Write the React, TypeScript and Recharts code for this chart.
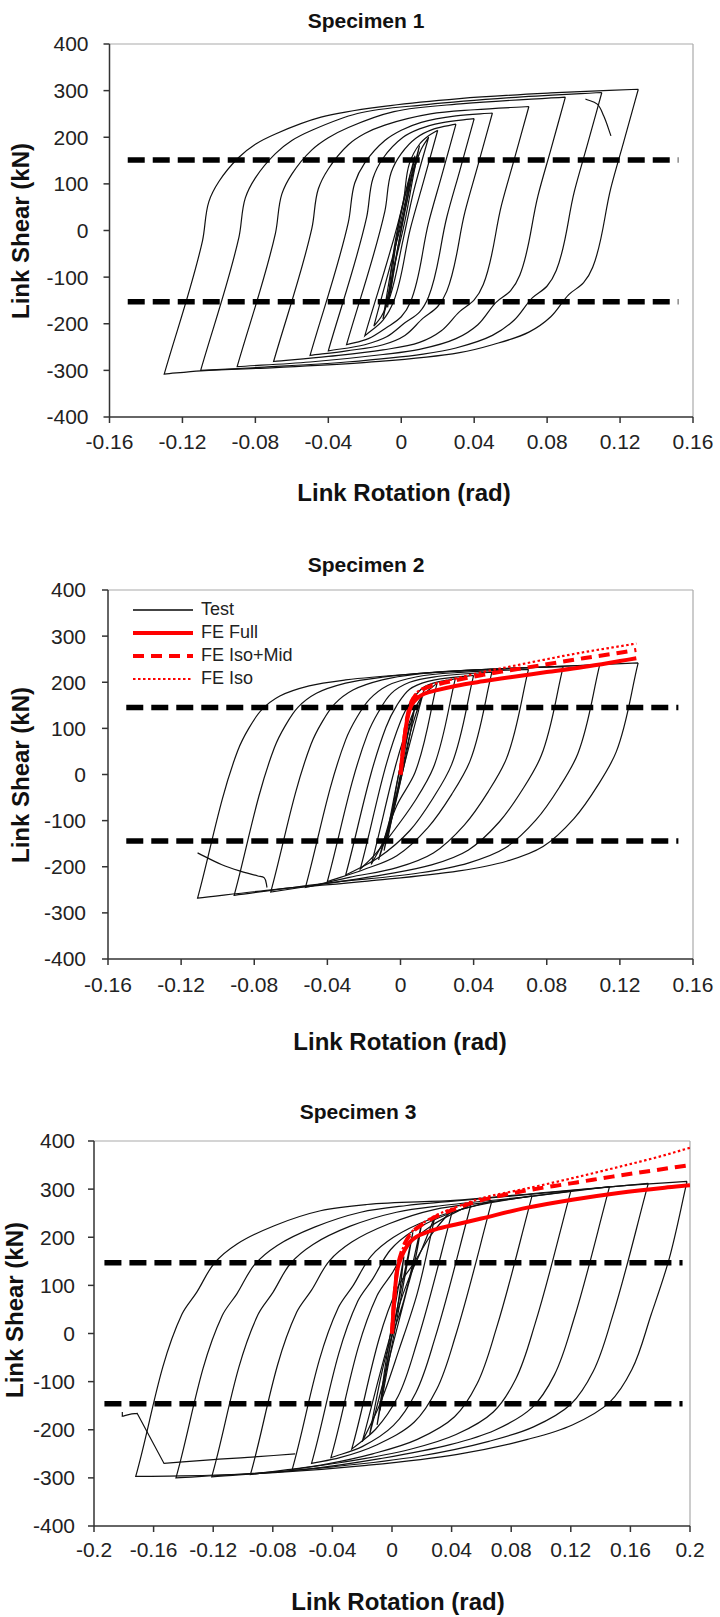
import React from 'react';
import { LineChart, Line, XAxis, YAxis, ReferenceLine, Legend } from 'recharts';

type Pair = [number, number];

const FONT = '"Liberation Sans", Arial, sans-serif';

// axes
const shearTicks = [-400, -300, -200, -100, 0, 100, 200, 300, 400];
const shearDomain: [number, number] = [-400, 400];
const rotTicks16 = [-0.16, -0.12, -0.08, -0.04, 0, 0.04, 0.08, 0.12, 0.16];
const rotDomain16: [number, number] = [-0.16, 0.16];
const rotTicks20 = [-0.2, -0.16, -0.12, -0.08, -0.04, 0, 0.04, 0.08, 0.12, 0.16, 0.2];
const rotDomain20: [number, number] = [-0.2, 0.2];

// ---------- Specimen 1 (test cycles, rotation rad / shear kN) ----------
const s1c130: Pair[] = [[0.13,303],[0.122,190],[0.115,92],[0.105,-79],[0.1,-112],[0.092,-137],[0.082,-185],[0.07,-218],[0.05,-245],[0.032,-262],[-0.019,-283],[-0.069,-294],[-0.11,-301],[-0.13,-308],[-0.109,-22],[-0.1055,62],[-0.1,105],[-0.089,157],[-0.08,185],[-0.069,207],[-0.044,243],[-0.006,268],[0.032,283],[0.082,295],[0.13,303]];
const s1c110: Pair[] = [[0.11,296],[0.102,183],[0.095,85],[0.085,-86],[0.08,-119],[0.072,-144],[0.062,-192],[0.05,-225],[0.03,-252],[0.012,-265],[-0.03,-282],[-0.075,-293],[-0.11,-300],[-0.089,-14],[-0.0855,70],[-0.08,113],[-0.069,165],[-0.06,193],[-0.049,215],[-0.024,251],[0.014,270],[0.06,285],[0.11,296]];
const s1c090: Pair[] = [[0.09,286],[0.082,173],[0.075,75],[0.065,-96],[0.06,-129],[0.052,-154],[0.042,-202],[0.03,-232],[0.01,-255],[-0.01,-266],[-0.05,-282],[-0.09,-292],[-0.069,-6],[-0.0655,78],[-0.06,121],[-0.049,173],[-0.04,199],[-0.029,221],[-0.004,255],[0.034,272],[0.09,286]];
const s1c070: Pair[] = [[0.07,266],[0.062,153],[0.055,55],[0.045,-116],[0.04,-149],[0.032,-174],[0.022,-215],[0.01,-240],[-0.01,-256],[-0.04,-270],[-0.07,-281],[-0.049,5],[-0.0455,89],[-0.04,132],[-0.029,184],[-0.02,208],[-0.009,226],[0.016,250],[0.04,259],[0.07,266]];
const s1c050: Pair[] = [[0.05,252],[0.042,139],[0.035,41],[0.025,-130],[0.02,-163],[0.012,-188],[0.002,-225],[-0.01,-245],[-0.03,-258],[-0.05,-268],[-0.029,18],[-0.0255,102],[-0.02,145],[-0.009,193],[0,215],[0.011,232],[0.03,246],[0.05,252]];
const s1c040: Pair[] = [[0.04,240],[0.032,127],[0.025,29],[0.015,-142],[0.01,-175],[0.002,-198],[-0.008,-228],[-0.02,-245],[-0.04,-258],[-0.019,28],[-0.0155,112],[-0.01,155],[0.001,200],[0.01,218],[0.022,231],[0.04,240]];
const s1c030: Pair[] = [[0.03,228],[0.022,115],[0.015,17],[0.005,-154],[0,-185],[-0.008,-208],[-0.018,-232],[-0.03,-245],[-0.009,41],[-0.0055,125],[0,165],[0.008,198],[0.018,218],[0.03,228]];
const s1c020: Pair[] = [[0.02,215],[0.012,102],[0.005,4],[-0.004,-150],[-0.01,-192],[-0.02,-226],[0.001,60],[0.0045,144],[0.01,185],[0.015,203],[0.02,215]];
const s1c015: Pair[] = [[0.015,200],[0.007,87],[0.001,-20],[-0.006,-140],[-0.011,-185],[-0.015,-205],[0.003,60],[0.007,130],[0.011,175],[0.015,200]];
const s1c010: Pair[] = [[0.01,182],[0.003,75],[-0.003,-30],[-0.008,-140],[-0.01,-190],[-0.004,-80],[0.002,20],[0.007,125],[0.01,182]];
const s1c0075: Pair[] = [[0.0075,160],[0.001,60],[-0.004,-40],[-0.0075,-165],[-0.003,-60],[0.002,40],[0.0075,160]];
const s1c005: Pair[] = [[0.005,120],[-0.001,20],[-0.004,-60],[-0.006,-135],[-0.002,-40],[0.002,50],[0.005,120]];
const s1Tail: Pair[] = [[0.101,282],[0.1075,271],[0.111,246],[0.115,203]];
const s1Yield = [151, -153];
const s1YieldSpan = [-0.15, 0.152];

// ---------- Specimen 2 ----------
const s2c130: Pair[] = [[0.13,242],[0.118,49],[0.108,-23],[0.095,-95],[0.078,-156],[0.058,-188],[0.032,-209],[-0.018,-231],[-0.068,-249],[-0.111,-268],[-0.089,52],[-0.083,100],[-0.076,140],[-0.066,170],[-0.05,192],[-0.03,205],[0.007,218],[0.057,229],[0.13,242]];
const s2c109: Pair[] = [[0.109,238],[0.097,45],[0.087,-27],[0.074,-99],[0.057,-160],[0.037,-192],[0.011,-213],[-0.039,-235],[-0.091,-262],[-0.069,58],[-0.063,106],[-0.056,146],[-0.046,176],[-0.03,198],[-0.01,211],[0.027,224],[0.07,232],[0.109,238]];
const s2c089: Pair[] = [[0.089,234],[0.077,41],[0.067,-31],[0.054,-103],[0.037,-164],[0.017,-196],[-0.009,-217],[-0.04,-236],[-0.071,-255],[-0.049,65],[-0.043,113],[-0.036,153],[-0.026,183],[-0.01,205],[0.01,218],[0.047,228],[0.089,234]];
const s2c070: Pair[] = [[0.07,228],[0.058,35],[0.048,-37],[0.035,-109],[0.018,-170],[-0.002,-202],[-0.028,-223],[-0.052,-245],[-0.03,75],[-0.024,123],[-0.017,163],[-0.007,193],[0.009,212],[0.035,222],[0.07,228]];
const s2c050: Pair[] = [[0.05,222],[0.038,29],[0.028,-43],[0.015,-115],[-0.002,-176],[-0.02,-206],[-0.04,-232],[-0.018,88],[-0.012,136],[-0.005,176],[0.005,200],[0.021,213],[0.05,222]];
const s2c040: Pair[] = [[0.04,215],[0.028,22],[0.018,-50],[0.005,-122],[-0.012,-180],[-0.03,-218],[-0.008,102],[-0.002,150],[0.005,185],[0.015,202],[0.04,215]];
const s2c030: Pair[] = [[0.03,208],[0.018,15],[0.008,-57],[-0.005,-129],[-0.015,-178],[-0.022,-205],[0,115],[0.006,160],[0.013,190],[0.03,208]];
const s2c020: Pair[] = [[0.02,198],[0.008,5],[-0.002,-67],[-0.01,-150],[-0.016,-195],[0.006,125],[0.012,170],[0.02,198]];
const s2c013: Pair[] = [[0.013,185],[0.002,20],[-0.006,-110],[-0.012,-185],[-0.002,-40],[0.006,100],[0.013,185]];
const s2c008: Pair[] = [[0.008,150],[0,20],[-0.005,-80],[-0.009,-165],[-0.002,-50],[0.003,40],[0.008,150]];
const s2c005: Pair[] = [[0.005,110],[-0.001,0],[-0.007,-140],[-0.001,-20],[0.005,110]];
const s2Tail: Pair[] = [[-0.111,-170],[-0.098,-195],[-0.088,-209],[-0.078,-220],[-0.0745,-224],[-0.073,-245]];
const s2FeFull: Pair[] = [[0,0],[0.001,40],[0.0025,90],[0.004,125],[0.006,150],[0.009,165],[0.013,175],[0.02,183],[0.03,192],[0.045,202],[0.06,211],[0.08,222],[0.1,233],[0.12,246],[0.129,252]];
const s2FeIsoMid: Pair[] = [[0,0],[0.001,40],[0.0025,90],[0.004,130],[0.006,158],[0.009,175],[0.013,186],[0.02,195],[0.03,204],[0.045,216],[0.06,226],[0.08,239],[0.1,252],[0.12,264],[0.129,270]];
const s2FeIso: Pair[] = [[0,0],[0.001,40],[0.0025,90],[0.004,130],[0.006,160],[0.009,178],[0.013,189],[0.02,198],[0.03,208],[0.045,222],[0.06,234],[0.08,250],[0.1,265],[0.12,278],[0.129,284]];
const s2Yield = [145, -144];
const s2YieldSpan = [-0.15, 0.152];

// ---------- Specimen 3 ----------
const s3c198: Pair[] = [[0.198,316],[0.186,155],[0.174,40],[0.161,-75],[0.146,-143],[0.121,-190],[0.091,-220],[0.044,-251],[-0.017,-274],[-0.079,-289],[-0.141,-296],[-0.172,-297],[-0.141,40],[-0.131,86],[-0.119,147],[-0.104,186],[-0.079,224],[-0.048,255],[-0.017,268],[0.044,277],[0.106,294],[0.168,310],[0.198,316]];
const s3c172: Pair[] = [[0.172,312],[0.148,36],[0.135,-79],[0.12,-147],[0.095,-194],[0.065,-224],[0.018,-255],[-0.04,-277],[-0.1,-292],[-0.145,-300],[-0.114,37],[-0.104,83],[-0.092,144],[-0.077,183],[-0.052,221],[-0.021,252],[0.01,266],[0.06,280],[0.12,297],[0.172,312]];
const s3c146: Pair[] = [[0.146,305],[0.122,29],[0.109,-86],[0.094,-154],[0.069,-201],[0.039,-231],[-0.008,-260],[-0.06,-283],[-0.121,-298],[-0.09,39],[-0.08,85],[-0.068,146],[-0.053,185],[-0.028,223],[0.003,252],[0.034,266],[0.09,284],[0.146,305]];
const s3c120: Pair[] = [[0.12,296],[0.096,20],[0.083,-95],[0.068,-163],[0.043,-210],[0.013,-240],[-0.034,-268],[-0.07,-283],[-0.095,-293],[-0.064,44],[-0.054,90],[-0.042,151],[-0.027,190],[-0.002,228],[0.029,258],[0.06,271],[0.12,296]];
const s3c094: Pair[] = [[0.094,286],[0.07,10],[0.057,-105],[0.042,-173],[0.017,-220],[-0.013,-250],[-0.045,-272],[-0.067,-283],[-0.036,54],[-0.026,100],[-0.014,161],[0.001,200],[0.026,238],[0.057,266],[0.094,286]];
const s3c067: Pair[] = [[0.067,275],[0.043,-1],[0.03,-116],[0.015,-184],[-0.01,-231],[-0.035,-258],[-0.054,-270],[-0.023,67],[-0.013,113],[-0.001,174],[0.014,213],[0.039,250],[0.067,275]];
const s3c053: Pair[] = [[0.053,268],[0.029,-8],[0.016,-123],[0.001,-191],[-0.02,-235],[-0.041,-258],[-0.01,79],[0,125],[0.012,186],[0.027,225],[0.053,268]];
const s3c041: Pair[] = [[0.041,260],[0.017,-16],[0.004,-131],[-0.011,-199],[-0.027,-240],[0.004,97],[0.014,143],[0.026,204],[0.041,260]];
const s3c029: Pair[] = [[0.029,245],[0.017,84],[0.005,-31],[-0.008,-146],[-0.02,-225],[0.004,50],[0.011,112],[0.02,175],[0.029,245]];
const s3c020: Pair[] = [[0.02,230],[0.008,70],[-0.004,-45],[-0.012,-160],[-0.015,-210],[0,-30],[0.01,90],[0.016,160],[0.02,230]];
const s3c014: Pair[] = [[0.014,210],[0.004,60],[-0.005,-90],[-0.01,-190],[-0.001,-40],[0.007,90],[0.014,210]];
const s3c008: Pair[] = [[0.008,160],[0,20],[-0.006,-100],[-0.008,-160],[-0.001,-20],[0.004,60],[0.008,160]];
const s3Tail: Pair[] = [[-0.181,-163],[-0.181,-172],[-0.176,-168],[-0.171,-166],[-0.153,-270],[-0.12,-262],[-0.09,-256],[-0.065,-250]];
const s3FeFull: Pair[] = [[0,0],[0.0017,78],[0.004,138],[0.0065,160],[0.0088,175],[0.012,190],[0.0165,201],[0.0288,216],[0.045,228],[0.06,239],[0.09,261],[0.121,278],[0.152,292],[0.183,303],[0.2,308]];
const s3FeIsoMid: Pair[] = [[0,0],[0.0017,80],[0.004,142],[0.0065,170],[0.009,190],[0.0134,210],[0.02,226],[0.029,242],[0.045,262],[0.06,277],[0.09,297],[0.12,312],[0.15,327],[0.2,350]];
const s3FeIso: Pair[] = [[0,0],[0.0017,80],[0.004,142],[0.0065,170],[0.009,190],[0.0134,212],[0.02,228],[0.029,245],[0.045,265],[0.06,281],[0.09,301],[0.12,322],[0.152,346],[0.18,368],[0.2,386]];
const s3Yield = [147, -146];
const s3YieldSpan = [-0.193, 0.195];

const legendOrder = ['Test', 'FE Full', 'FE Iso+Mid', 'FE Iso'];
const feLook: Record<string, { stroke: string; width: number; dash?: string }> = {
  Test: { stroke: '#444', width: 2 },
  'FE Full': { stroke: '#ff0000', width: 4 },
  'FE Iso+Mid': { stroke: '#ff0000', width: 4, dash: '11 7' },
  'FE Iso': { stroke: '#ff0000', width: 2.2, dash: '2.5 2.5' },
};

const pts = (arr: Pair[]) => arr.map(([x, y]) => ({ x, y }));

// smooth path through the points; keeps sharp corners where the path turns hard (loop tips)
function hysteresisCurve(context: any) {
  let xs: number[] = [];
  let ys: number[] = [];
  const unit = (dx: number, dy: number) => {
    const l = Math.hypot(dx, dy);
    return l ? { x: dx / l, y: dy / l } : { x: 0, y: 0 };
  };
  return {
    areaStart() {},
    areaEnd() {},
    lineStart() {
      xs = [];
      ys = [];
    },
    point(x: number, y: number) {
      xs.push(+x);
      ys.push(+y);
    },
    lineEnd() {
      const n = xs.length;
      if (!n) return;
      context.moveTo(xs[0], ys[0]);
      const tin: { x: number; y: number }[] = [];
      const tout: { x: number; y: number }[] = [];
      for (let i = 0; i < n; i++) {
        const a = i > 0 ? unit(xs[i] - xs[i - 1], ys[i] - ys[i - 1]) : null;
        const b = i < n - 1 ? unit(xs[i + 1] - xs[i], ys[i + 1] - ys[i]) : null;
        if (!a && b) {
          tin[i] = tout[i] = b;
        } else if (a && !b) {
          tin[i] = tout[i] = a;
        } else if (a && b) {
          if (a.x * b.x + a.y * b.y < 0.5) {
            tin[i] = a;
            tout[i] = b;
          } else {
            tin[i] = tout[i] = unit(a.x + b.x, a.y + b.y);
          }
        } else {
          tin[i] = tout[i] = { x: 0, y: 0 };
        }
      }
      for (let i = 0; i < n - 1; i++) {
        const k = Math.hypot(xs[i + 1] - xs[i], ys[i + 1] - ys[i]) / 3;
        context.bezierCurveTo(
          xs[i] + tout[i].x * k,
          ys[i] + tout[i].y * k,
          xs[i + 1] - tin[i + 1].x * k,
          ys[i + 1] - tin[i + 1].y * k,
          xs[i + 1],
          ys[i + 1],
        );
      }
    },
  };
}

function LegendRows(props: any) {
  const seen = new Set<string>();
  const items = (props.payload || [])
    .filter((p: any) => {
      if (!feLook[p.value] || seen.has(p.value)) return false;
      seen.add(p.value);
      return true;
    })
    .sort((a: any, b: any) => legendOrder.indexOf(a.value) - legendOrder.indexOf(b.value));
  return (
    <div style={{ fontFamily: FONT, fontSize: 18, color: '#222' }}>
      {items.map((p: any) => {
        const look = feLook[p.value];
        return (
          <div key={p.value} style={{ display: 'flex', alignItems: 'center', height: 23 }}>
            <svg width={60} height={10}>
              <line x1={0} y1={5} x2={60} y2={5} stroke={look.stroke} strokeWidth={look.width} strokeDasharray={look.dash} />
            </svg>
            <span style={{ marginLeft: 8 }}>{p.value}</span>
          </div>
        );
      })}
    </div>
  );
}

interface PanelProps {
  top: number;
  height: number;
  margin: { top: number; right: number; bottom: number; left: number };
  xDomain: [number, number];
  xTicks: number[];
  xTickGap: number;
  yTickGap: number;
  cycles: Pair[][];
  tail: Pair[];
  yieldShear: number[];
  yieldSpan: number[];
  fe?: { name: string; data: Pair[] }[];
  legend?: boolean;
}

function Panel(p: PanelProps) {
  const tick = { fill: '#222', fontSize: 21, fontFamily: FONT };
  return (
    <div style={{ position: 'absolute', left: 0, top: p.top }}>
      <LineChart width={720} height={p.height} margin={p.margin}>
        <XAxis
          type="number"
          dataKey="x"
          domain={p.xDomain}
          ticks={p.xTicks}
          interval={0}
          allowDataOverflow
          height={40}
          tickSize={6}
          tickMargin={p.xTickGap}
          tick={tick}
          axisLine={{ stroke: '#333', strokeWidth: 1.5 }}
          tickLine={{ stroke: '#333', strokeWidth: 1.5 }}
        />
        <YAxis
          type="number"
          domain={shearDomain}
          ticks={shearTicks}
          interval={0}
          allowDataOverflow
          width={60}
          tickSize={6}
          tickMargin={p.yTickGap}
          tick={tick}
          axisLine={{ stroke: '#333', strokeWidth: 1.5 }}
          tickLine={{ stroke: '#333', strokeWidth: 1.5 }}
        />
        <ReferenceLine y={shearDomain[1]} stroke="#aaa" strokeWidth={1.2} />
        <ReferenceLine x={p.xDomain[1]} stroke="#aaa" strokeWidth={1.2} />
        {p.cycles.map((c, i) => (
          <Line
            key={'c' + i}
            type={hysteresisCurve as any}
            data={pts(c)}
            dataKey="y"
            name="Test"
            stroke="#111"
            strokeWidth={1.2}
            dot={false}
            activeDot={false}
            legendType={i === 0 ? 'line' : 'none'}
            isAnimationActive={false}
          />
        ))}
        <Line type={hysteresisCurve as any} data={pts(p.tail)} dataKey="y" stroke="#111" strokeWidth={1.2} dot={false} legendType="none" isAnimationActive={false} />
        {p.yieldShear.map((v, i) => (
          <Line
            key={'y' + i}
            data={[{ x: p.yieldSpan[0], y: v }, { x: p.yieldSpan[1], y: v }]}
            dataKey="y"
            stroke="#000"
            strokeWidth={5.5}
            strokeDasharray="17 8"
            dot={false}
            legendType="none"
            isAnimationActive={false}
          />
        ))}
        {(p.fe || []).map((f) => (
          <Line
            key={f.name}
            type={hysteresisCurve as any}
            data={pts(f.data)}
            dataKey="y"
            name={f.name}
            stroke={feLook[f.name].stroke}
            strokeWidth={feLook[f.name].width}
            strokeDasharray={feLook[f.name].dash}
            dot={false}
            isAnimationActive={false}
          />
        ))}
        {p.legend && (
          <Legend
            layout="vertical"
            align="center"
            verticalAlign="middle"
            wrapperStyle={{ left: 133, top: 78, width: 220, height: 94 }}
            content={<LegendRows />}
          />
        )}
      </LineChart>
    </div>
  );
}

function Caption({ x, y, text, size, rotate }: { x: number; y: number; text: string; size: number; rotate?: boolean }) {
  return (
    <div
      style={{
        position: 'absolute',
        left: x,
        top: y,
        transform: `translate(-50%, -50%)${rotate ? ' rotate(-90deg)' : ''}`,
        fontFamily: FONT,
        fontWeight: 'bold',
        fontSize: size,
        lineHeight: 1.1,
        color: '#111',
        whiteSpace: 'nowrap',
      }}
    >
      {text}
    </div>
  );
}

export default function App() {
  return (
    <div style={{ position: 'relative', width: 720, height: 1617, background: '#fff', overflow: 'hidden' }}>
      <style>{'body{margin:0}'}</style>
      <Panel
        top={0}
        height={520}
        margin={{ top: 44, right: 27, bottom: 63, left: 49.5 }}
        xDomain={rotDomain16}
        xTicks={rotTicks16}
        xTickGap={11}
        yTickGap={15}
        cycles={[s1c130, s1c110, s1c090, s1c070, s1c050, s1c040, s1c030, s1c020, s1c015, s1c010, s1c0075, s1c005]}
        tail={s1Tail}
        yieldShear={s1Yield}
        yieldSpan={s1YieldSpan}
      />
      <Panel
        top={520}
        height={540}
        margin={{ top: 70, right: 27, bottom: 61, left: 48 }}
        xDomain={rotDomain16}
        xTicks={rotTicks16}
        xTickGap={12}
        yTickGap={16}
        cycles={[s2c130, s2c109, s2c089, s2c070, s2c050, s2c040, s2c030, s2c020, s2c013, s2c008, s2c005]}
        tail={s2Tail}
        yieldShear={s2Yield}
        yieldSpan={s2YieldSpan}
        fe={[
          { name: 'FE Full', data: s2FeFull },
          { name: 'FE Iso+Mid', data: s2FeIsoMid },
          { name: 'FE Iso', data: s2FeIso },
        ]}
        legend
      />
      <Panel
        top={1060}
        height={557}
        margin={{ top: 81, right: 30, bottom: 51, left: 34 }}
        xDomain={rotDomain20}
        xTicks={rotTicks20}
        xTickGap={10}
        yTickGap={13}
        cycles={[s3c198, s3c172, s3c146, s3c120, s3c094, s3c067, s3c053, s3c041, s3c029, s3c020, s3c014, s3c008]}
        tail={s3Tail}
        yieldShear={s3Yield}
        yieldSpan={s3YieldSpan}
        fe={[
          { name: 'FE Full', data: s3FeFull },
          { name: 'FE Iso+Mid', data: s3FeIsoMid },
          { name: 'FE Iso', data: s3FeIso },
        ]}
      />
      <Caption x={366} y={21} size={21} text="Specimen 1" />
      <Caption x={404} y={493} size={24} text="Link Rotation (rad)" />
      <Caption x={21} y={231} size={24} text="Link Shear (kN)" rotate />
      <Caption x={366} y={565} size={21} text="Specimen 2" />
      <Caption x={400} y={1042} size={24} text="Link Rotation (rad)" />
      <Caption x={21} y={775} size={24} text="Link Shear (kN)" rotate />
      <Caption x={358} y={1112} size={21} text="Specimen 3" />
      <Caption x={398} y={1602} size={24} text="Link Rotation (rad)" />
      <Caption x={15} y={1310} size={24} text="Link Shear (kN)" rotate />
    </div>
  );
}
